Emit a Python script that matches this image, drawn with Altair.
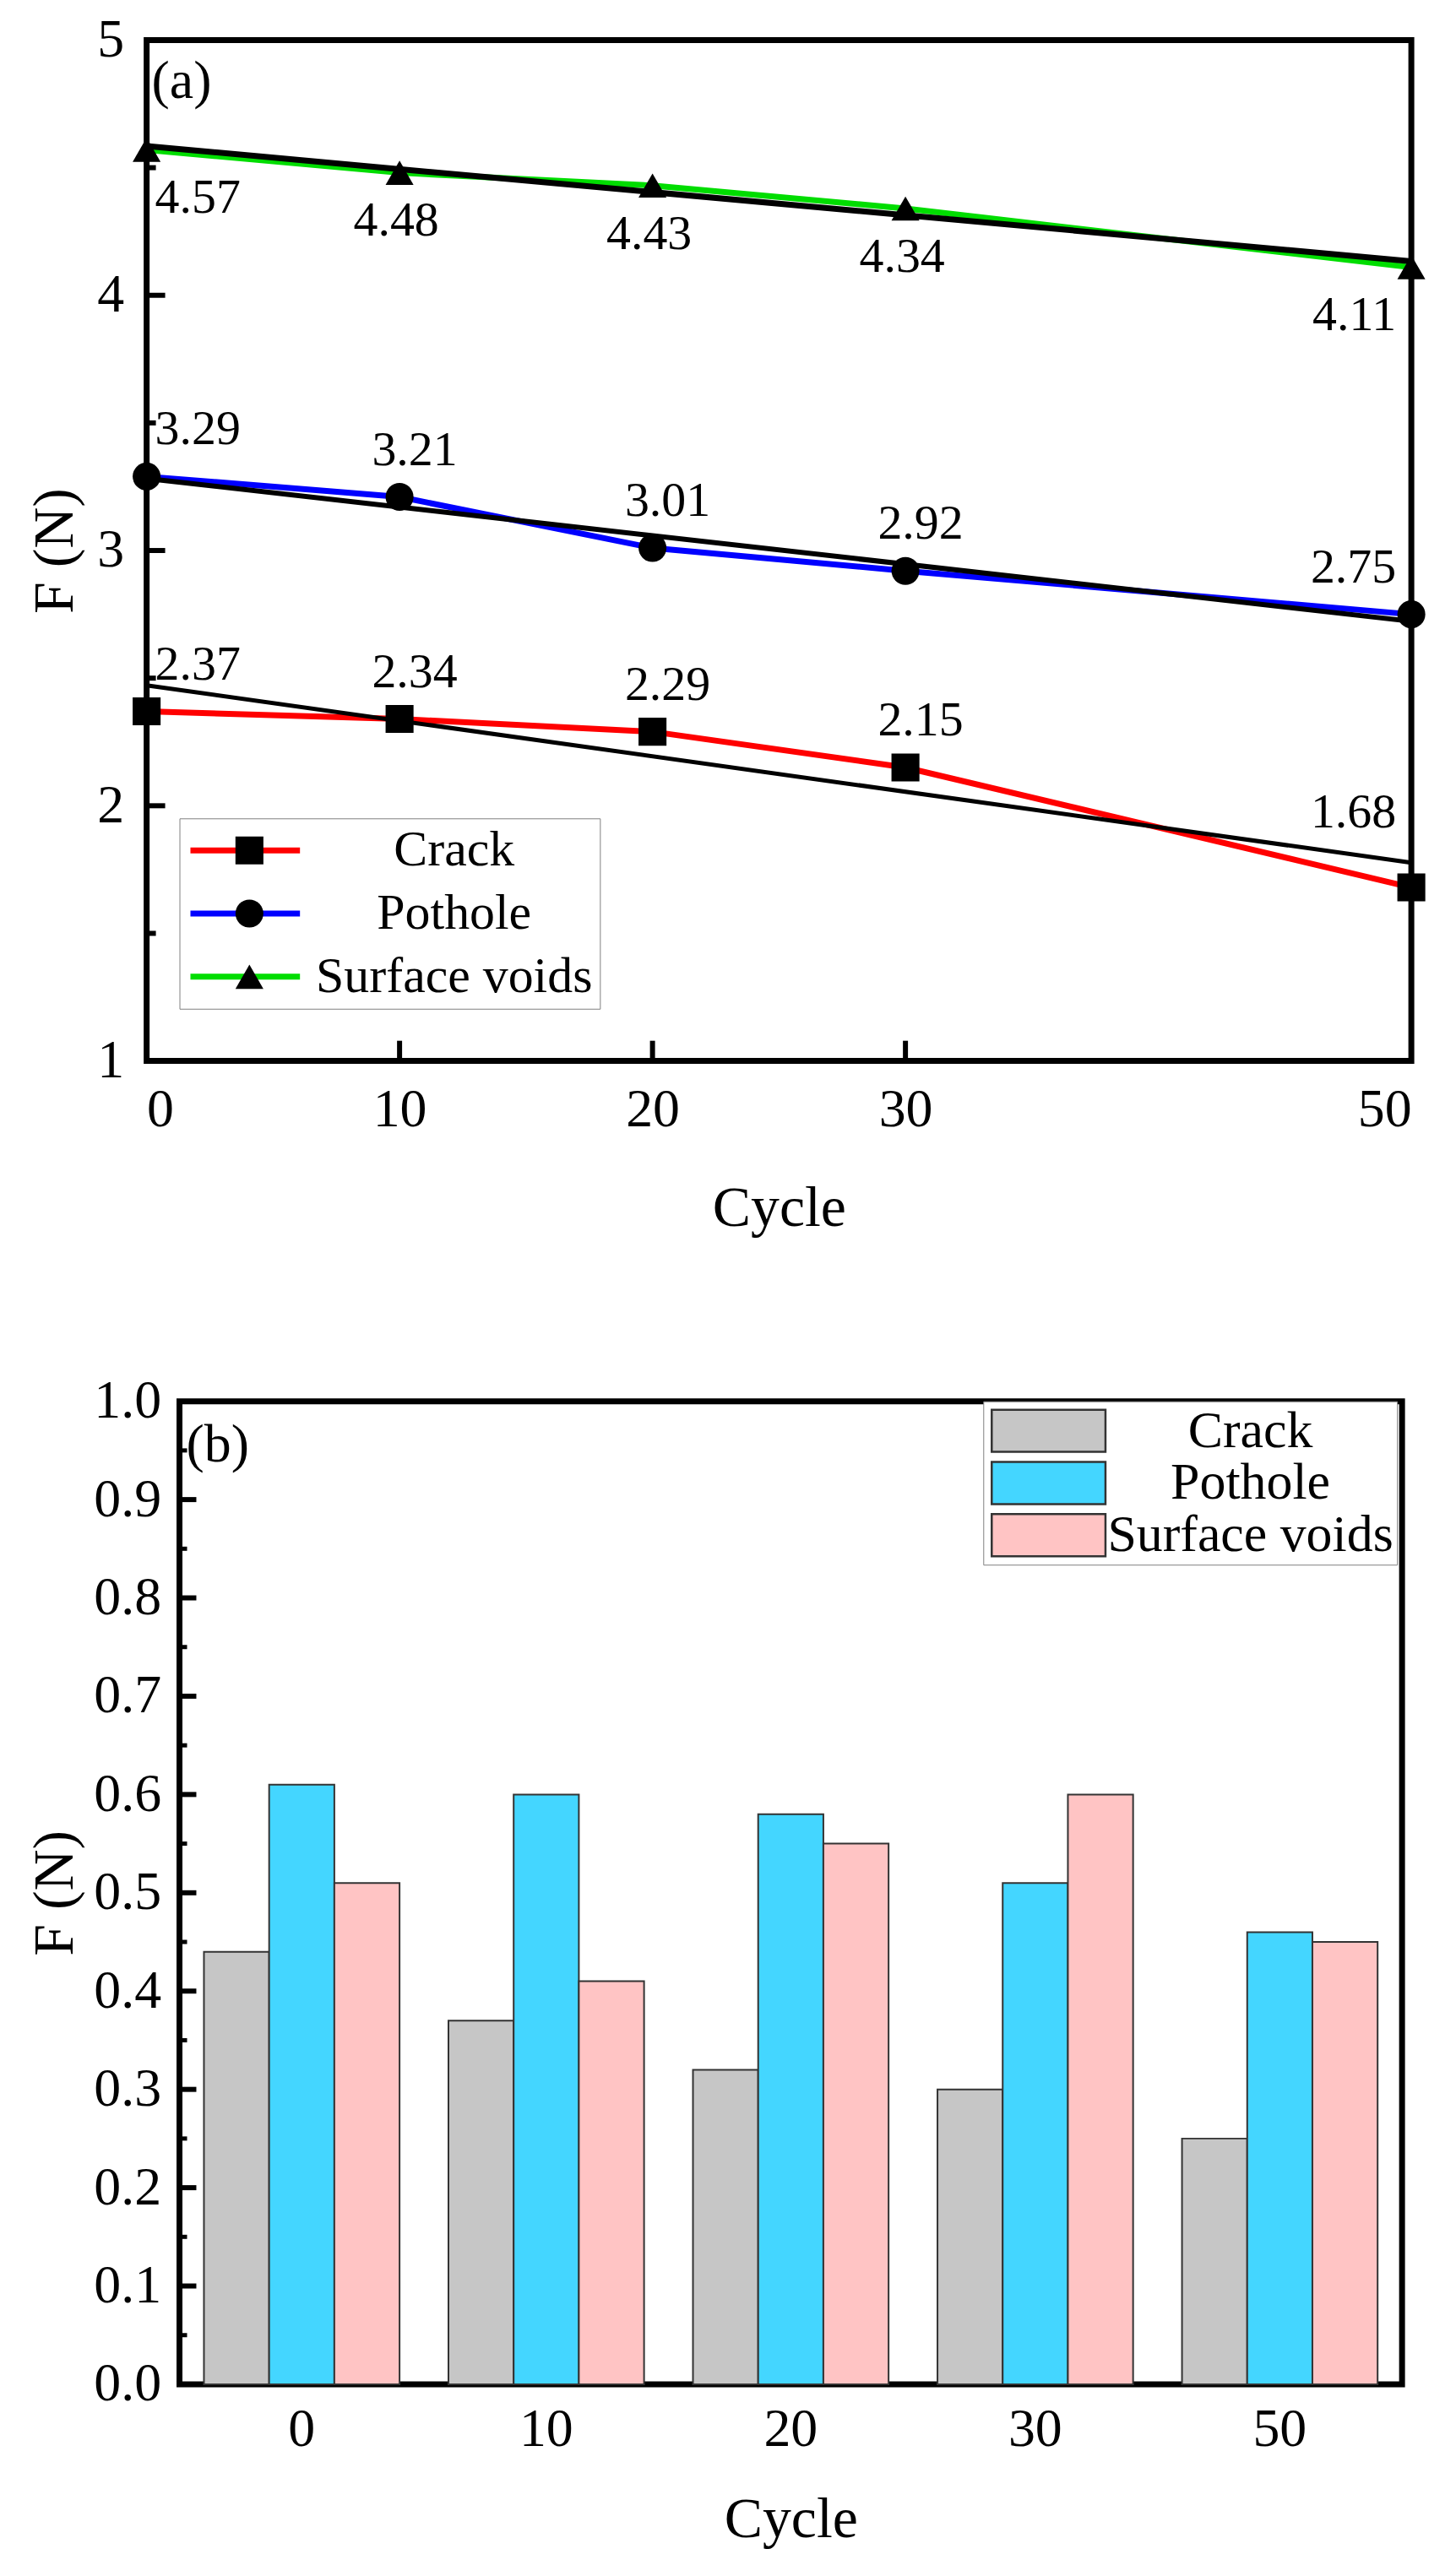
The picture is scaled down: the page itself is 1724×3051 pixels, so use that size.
import altair as alt
import pandas as pd

FONT = "Liberation Serif"

cycles = [0, 10, 20, 30, 50]
cycle_labels = ["0", "10", "20", "30", "50"]
series = ["Crack", "Pothole", "Surface voids"]

line_crack = [2.37, 2.34, 2.29, 2.15, 1.68]
line_pothole = [3.29, 3.21, 3.01, 2.92, 2.75]
line_voids = [4.57, 4.48, 4.43, 4.34, 4.11]

bar_crack = [0.44, 0.37, 0.32, 0.30, 0.25]
bar_pothole = [0.61, 0.60, 0.58, 0.51, 0.46]
bar_voids = [0.51, 0.41, 0.55, 0.60, 0.45]

line_colors = ["#FF0000", "#0000FF", "#00DD00"]
bar_colors = ["#C6C6C6", "#44D6FF", "#FFC4C4"]
marker_shapes = ["square", "circle", "triangle-up"]

top_x_domain = [0, 50]
top_y_domain = [1, 5]
top_y_values = [1, 2, 3, 4, 5]
top_y_major = [2, 3, 4]
top_y_minor = [1.5, 2.5, 3.5, 4.5]
top_x_major = [10, 20, 30]

bar_y_values = [0.0, 0.1, 0.2, 0.3, 0.4, 0.5, 0.6, 0.7, 0.8, 0.9, 1.0]
bar_y_major = [0.1, 0.2, 0.3, 0.4, 0.5, 0.6, 0.7, 0.8, 0.9]
bar_y_minor = [0.05, 0.15, 0.25, 0.35, 0.45, 0.55, 0.65, 0.75, 0.85, 0.95]

line_df = pd.DataFrame(
    [{"type": s, "cycle": c, "value": v}
     for s, vals in zip(series, [line_crack, line_pothole, line_voids])
     for c, v in zip(cycles, vals)]
)
bar_df = pd.DataFrame(
    [{"defect": s, "cyc": c, "force": v}
     for s, vals in zip(series, [bar_crack, bar_pothole, bar_voids])
     for c, v in zip(cycle_labels, vals)]
)

SHIFT = 39          # top panel's frame starts this far left of the bottom panel's
TW, TH = 1462, 1212
BW, BH = 1451, 1167

# ---------------- top (a) ----------------
xq = alt.X("cycle:Q", scale=alt.Scale(domain=top_x_domain, nice=False, zero=False, range=[-SHIFT, TW]),
           axis=alt.Axis(values=cycles, title="Cycle", format="d",
                         labelPadding=26, titlePadding=51))
yq = alt.Y("value:Q", scale=alt.Scale(domain=top_y_domain, nice=False, zero=False),
           axis=alt.Axis(values=top_y_values, title="F (N)", format="d", offset=SHIFT,
                         labelPadding=27, titlePadding=15))

base = alt.Chart(line_df)

lines = base.mark_line(strokeWidth=7).encode(
    x=xq, y=yq,
    color=alt.Color("type:N", scale=alt.Scale(domain=series, range=line_colors),
                    legend=alt.Legend(orient="none", legendX=0, legendY=924, title=None,
                                      symbolType="M-1,0H4.2", symbolSize=2500,
                                      symbolStrokeWidth=7, labelFont=FONT, labelFontSize=60,
                                      labelColor="black", labelAlign="center", labelOffset=258,
                                      labelLimit=0, rowPadding=15, padding=8,
                                      strokeColor="#808080", fillColor="white")),
)

fit = base.transform_regression("cycle", "value", groupby=["type"]).mark_line(color="black").encode(
    x="cycle:Q", y="value:Q", detail="type:N",
    strokeWidth=alt.StrokeWidth("type:N", scale=alt.Scale(domain=series, range=[5, 7, 7]), legend=None),
)

points = base.transform_calculate(mk="datum.type").mark_point(
    filled=True, color="black", size=1100, opacity=1
).encode(
    x="cycle:Q", y="value:Q",
    shape=alt.Shape("mk:N", scale=alt.Scale(range=marker_shapes),
                    legend=alt.Legend(orient="none", legendX=45, legendY=924, title=None,
                                      symbolSize=1100, symbolFillColor="black",
                                      symbolStrokeWidth=0, labelFontSize=60, labelExpr="''",
                                      rowPadding=15, padding=8, zindex=1)),
)

labels = base.mark_text(
    font=FONT, fontSize=58, color="black", baseline="middle",
    align=alt.expr("datum.cycle == 0 ? 'left' : (datum.cycle == 50 ? 'right' : 'center')"),
    dx=alt.expr("datum.cycle == 0 ? 10 : (datum.cycle == 50 ? -18 : (datum.type == 'Surface voids' ? -4 : 18))"),
    dy=alt.expr("datum.type == 'Surface voids' ? 58 : ((datum.type == 'Crack' && datum.cycle == 50) ? -88 : -55)"),
).encode(x="cycle:Q", y="value:Q", text=alt.Text("value:Q", format=".2f"))

t_ymaj = alt.Chart(pd.DataFrame({"value": top_y_major})).mark_rule(color="black", strokeWidth=6).encode(
    y="value:Q", x=alt.value(-SHIFT), x2=alt.value(-SHIFT + 22))
t_ymin = alt.Chart(pd.DataFrame({"value": top_y_minor})).mark_rule(color="black", strokeWidth=6).encode(
    y="value:Q", x=alt.value(-SHIFT), x2=alt.value(-SHIFT + 11))
t_xmaj = alt.Chart(pd.DataFrame({"cycle": top_x_major})).mark_rule(color="black", strokeWidth=6).encode(
    x="cycle:Q", y=alt.value(TH), y2=alt.value(TH - 24))

frame_a = alt.Chart(pd.DataFrame({"f": [0]})).mark_rect(
    filled=False, stroke="black", strokeWidth=7, fillOpacity=0
).encode(x=alt.datum(top_x_domain[0]), x2=alt.datum(top_x_domain[1]),
         y=alt.datum(top_y_domain[0]), y2=alt.datum(top_y_domain[1]))

tag_a = alt.Chart(pd.DataFrame({"lab": ["(a)"]})).mark_text(
    font=FONT, fontSize=64, align="left", baseline="middle", color="black"
).encode(text="lab:N", x=alt.value(-SHIFT + 6), y=alt.value(50))

top = alt.layer(lines, fit, points, labels, t_ymaj, t_ymin, t_xmaj, frame_a, tag_a).properties(
    width=TW, height=TH, view=alt.ViewBackground(stroke="transparent")
).resolve_legend(color="independent", shape="independent")

# ---------------- bottom (b) ----------------
bars = alt.Chart(bar_df).mark_bar(stroke="#333333", strokeWidth=2).encode(
    x=alt.X("cyc:N", sort=cycle_labels, scale=alt.Scale(paddingInner=0.2, paddingOuter=0.1),
            axis=alt.Axis(title="Cycle", labelAngle=0, labelPadding=22, titlePadding=41)),
    xOffset=alt.XOffset("defect:N", sort=series, scale=alt.Scale(paddingInner=0, paddingOuter=0)),
    y=alt.Y("force:Q", scale=alt.Scale(domain=[0, 1], nice=False),
            axis=alt.Axis(values=bar_y_values, format=".1f", title="F (N)",
                          labelPadding=22, titlePadding=11)),
    fill=alt.Fill("defect:N", sort=series, scale=alt.Scale(domain=series, range=bar_colors),
                  legend=alt.Legend(orient="none", legendX=954, legendY=0, title=None,
                                    symbolType="M-1,-1H4.4V1H-1Z", symbolSize=2500,
                                    symbolStrokeColor="#333333", symbolStrokeWidth=2.5,
                                    symbolOpacity=1,
                                    labelFont=FONT, labelFontSize=62, labelColor="black",
                                    labelAlign="center", labelOffset=251, labelLimit=0,
                                    rowPadding=-4, padding=4,
                                    strokeColor="#808080", fillColor="white")),
)

b_ymaj = alt.Chart(pd.DataFrame({"force": bar_y_major})).mark_rule(color="black", strokeWidth=6).encode(
    y="force:Q", x=alt.value(0), x2=alt.value(20))
b_ymin = alt.Chart(pd.DataFrame({"force": bar_y_minor})).mark_rule(color="black", strokeWidth=5).encode(
    y="force:Q", x=alt.value(0), x2=alt.value(9))

tag_b = alt.Chart(pd.DataFrame({"lab": ["(b)"]})).mark_text(
    font=FONT, fontSize=64, align="left", baseline="middle", color="black"
).encode(text="lab:N", x=alt.value(8), y=alt.value(52))

bottom = alt.layer(bars, b_ymaj, b_ymin, tag_b).properties(
    width=BW, height=BH, view=alt.ViewBackground(stroke="black", strokeWidth=7)
)

chart = alt.vconcat(top, bottom, spacing=158).resolve_scale(
    color="independent", fill="independent", x="independent", y="independent"
).properties(
    padding={"left": 20, "top": 3, "right": 5, "bottom": 5}
).configure_view(
    stroke="transparent"
).configure_axis(
    labelFont=FONT, titleFont=FONT, labelFontSize=64, titleFontSize=68,
    labelColor="black", titleColor="black", titleFontWeight="normal",
    domain=False, ticks=False, grid=False
).configure_legend(
    labelFont=FONT
)

chart.save("out.html", embed_options={"renderer": "svg", "actions": False})
